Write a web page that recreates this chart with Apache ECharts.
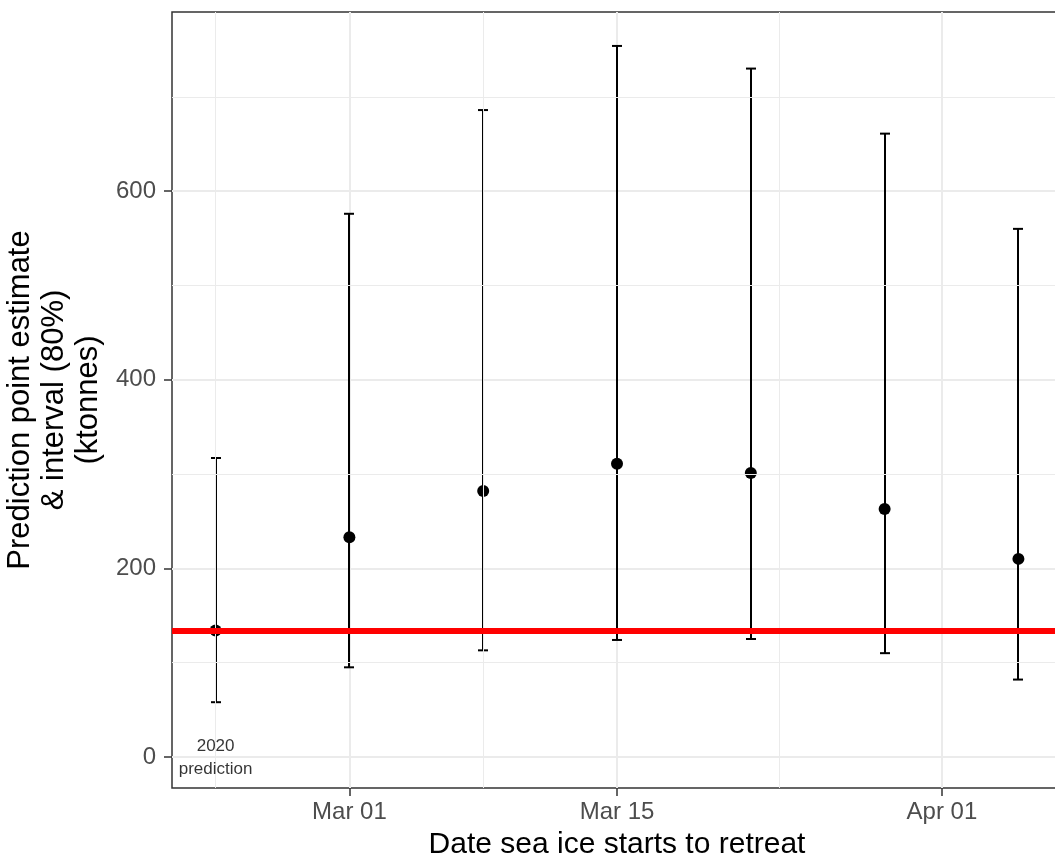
<!DOCTYPE html>
<html>
<head>
<meta charset="utf-8">
<script src="https://cdn.jsdelivr.net/npm/echarts@6/dist/echarts.min.js"></script>
<style>
html,body{margin:0;padding:0;background:#fff;}
#chart{width:1055px;height:859px;}
</style>
</head>
<body>
<div id="chart"></div>
<script>
// ---- data ----
const dates = ['2020-02-23','2020-03-01','2020-03-08','2020-03-15','2020-03-22','2020-03-29','2020-04-05'];
const estimate = [134, 233, 282, 311, 301, 263, 210];
const lower = [58, 95, 113, 124, 125, 110, 82];
const upper = [317, 576, 686, 754, 730, 661, 560];
const observed2020 = 134;
const xTickDates = ['2020-03-01','2020-03-15','2020-04-01'];
const xTickLabels = ['Mar 01','Mar 15','Apr 01'];
const xMinorDates = ['2020-02-23','2020-03-08','2020-03-23T12:00'];
const yTicks = [0, 200, 400, 600];
const yMinor = [100, 300, 500, 700];
const annotationDate = '2020-02-23';
const annotationValue = -1;
const annotationText = '2020\nprediction';

const ORIGIN = Date.UTC(2020, 2, 1);
function dayOf(s) {
  const p = s.split('T');
  const d = p[0].split('-').map(Number);
  let h = 0;
  if (p[1]) h = Number(p[1].split(':')[0]);
  return (Date.UTC(d[0], d[1] - 1, d[2], h) - ORIGIN) / 86400000;
}
const xs = dates.map(dayOf);
const xTicks = xTickDates.map(dayOf);
const xMinor = xMinorDates.map(dayOf);
const labelMap = {};
xTicks.forEach((v, i) => { labelMap[v] = xTickLabels[i]; });

const FONT = 'Liberation Sans, Arial, sans-serif';
const chart = echarts.init(document.getElementById('chart'), null, {renderer: 'canvas'});

const option = {
  animation: false,
  backgroundColor: '#fff',
  grid: {
    left: 172, top: 12, width: 890, height: 776,
    containLabel: false, outerBoundsMode: 'none',
    show: true, borderColor: '#333333', borderWidth: 1.5, backgroundColor: 'transparent'
  },
  xAxis: {
    type: 'value', min: -9.28, max: 37.28,
    name: 'Date sea ice starts to retreat',
    nameLocation: 'middle', nameGap: 42,
    nameTextStyle: {fontFamily: FONT, fontSize: 30, color: '#000'},
    axisLine: {show: false, onZero: false},
    axisTick: {show: true, customValues: xTicks, length: 8, lineStyle: {color: '#333333', width: 1.5}},
    axisLabel: {customValues: xTicks, formatter: v => labelMap[v] || '', fontFamily: FONT, fontSize: 24, color: '#4D4D4D', margin: 12},
    splitLine: {show: true, lineStyle: {color: '#EBEBEB', width: 2}}
  },
  yAxis: {
    type: 'value', min: -33, max: 790,
    name: 'Prediction point estimate\n& interval (80%)\n(ktonnes)',
    nameLocation: 'middle', nameGap: 57, nameRotate: 90,
    nameTextStyle: {fontFamily: FONT, fontSize: 31, color: '#000', lineHeight: 34, align: 'center'},
    axisLine: {show: false, onZero: false},
    axisTick: {show: true, customValues: yTicks, length: 8, lineStyle: {color: '#333333', width: 1.5}},
    axisLabel: {customValues: yTicks, fontFamily: FONT, fontSize: 24, color: '#4D4D4D', margin: 16},
    splitLine: {show: true, lineStyle: {color: '#EBEBEB', width: 2}}
  },
  series: [
    {
      type: 'line', data: [], z: 1, silent: true,
      markLine: {
        silent: true, symbol: 'none', label: {show: false},
        lineStyle: {color: '#EBEBEB', width: 1, type: 'solid'},
        emphasis: {disabled: true},
        data: xMinor.map(v => ({xAxis: v})).concat(yMinor.map(v => ({yAxis: v})))
      }
    },
    {
      type: 'custom', z: 3, silent: true,
      data: xs.map((x, i) => [x, lower[i], upper[i]]),
      encode: {x: 0, y: [1, 2]},
      renderItem: function (params, api) {
        const x = api.value(0);
        const lo = api.coord([x, api.value(1)]);
        const hi = api.coord([x, api.value(2)]);
        const cx = Math.round(lo[0]);
        const hw = 5;
        const style = {stroke: '#000', lineWidth: 2};
        return {
          type: 'group',
          children: [
            {type: 'line', shape: {x1: cx, y1: lo[1], x2: cx, y2: hi[1]}, style: style},
            {type: 'line', shape: {x1: cx - hw, y1: lo[1], x2: cx + hw, y2: lo[1]}, style: style},
            {type: 'line', shape: {x1: cx - hw, y1: hi[1], x2: cx + hw, y2: hi[1]}, style: style}
          ]
        };
      }
    },
    {
      type: 'scatter', z: 4, silent: true,
      data: xs.map((x, i) => [x, estimate[i]]),
      symbol: 'circle', symbolSize: 12,
      itemStyle: {color: '#000', opacity: 1}
    },
    {
      type: 'line', data: [], z: 6, silent: true,
      markLine: {
        silent: true, symbol: 'none', label: {show: false},
        lineStyle: {color: '#FF0000', width: 6, type: 'solid'},
        emphasis: {disabled: true},
        data: [{yAxis: observed2020}]
      }
    },
    {
      type: 'scatter', z: 5, silent: true,
      data: [[dayOf(annotationDate), annotationValue]],
      symbolSize: 0,
      label: {
        show: true, position: 'inside', formatter: annotationText,
        fontFamily: FONT, fontSize: 17, color: '#000', lineHeight: 23, align: 'center'
      }
    }
  ]
};
chart.setOption(option);
</script>
</body>
</html>
